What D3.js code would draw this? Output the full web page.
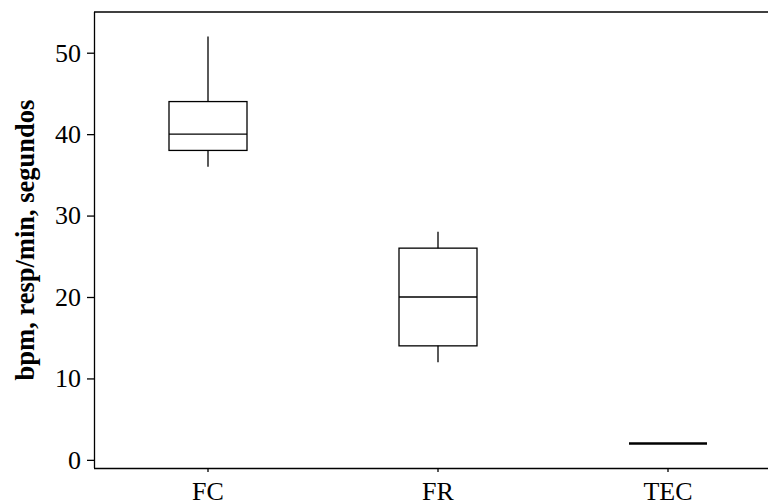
<!DOCTYPE html>
<html>
<head>
<meta charset="utf-8">
<script src="https://cdn.jsdelivr.net/npm/d3@7"></script>
<style>
  body { margin: 0; background: #fff; }
  svg { display: block; font-family: "Liberation Serif", "Times New Roman", serif; }
  .axis path, .axis line { stroke: #000; stroke-width: 1.3; }
  .axis text { font-family: "Liberation Serif", "Times New Roman", serif; font-size: 26px; fill: #000; }
</style>
</head>
<body>
<div id="chart"></div>
<script>
const categories = ["FC", "FR", "TEC"];
const whiskerLow = [36, 12, 2];
const q1 = [38, 14, 2];
const median = [40, 20, 2];
const q3 = [44, 26, 2];
const whiskerHigh = [52, 28, 2];
const yTicks = [0, 10, 20, 30, 40, 50];

const boxes = categories.map((c, i) => ({
  cat: c, lo: whiskerLow[i], q1: q1[i], med: median[i], q3: q3[i], hi: whiskerHigh[i]
}));

const W = 768, H = 503;
const margin = { top: 12, right: -15, bottom: 35, left: 94 };

const svg = d3.select("#chart").append("svg")
  .attr("width", W)
  .attr("height", H);

const x = d3.scaleBand()
  .domain(categories)
  .range([margin.left - 1, W - margin.right])
  .padding(0);

const y = d3.scaleLinear()
  .domain([-1, 55])
  .range([H - margin.bottom, margin.top]);

const boxW = 78;

// frame: top line, the right side runs off the page
svg.append("line")
  .attr("x1", margin.left).attr("x2", W + 5)
  .attr("y1", margin.top).attr("y2", margin.top)
  .attr("stroke", "#000").attr("stroke-width", 1.3);

svg.append("g")
  .attr("class", "axis")
  .attr("transform", `translate(${margin.left},0)`)
  .call(d3.axisLeft(y).tickValues(yTicks).tickSize(7).tickPadding(6).tickSizeOuter(0))
  .call(g => g.select(".domain").attr("d", `M0.5,${margin.top}V${H - margin.bottom}`));

svg.append("g")
  .attr("class", "axis")
  .attr("transform", `translate(0,${H - margin.bottom})`)
  .call(d3.axisBottom(x).tickSize(4).tickPadding(10).tickSizeOuter(0))
  .call(g => g.select(".domain").attr("d", `M${margin.left},0.5H${W + 5}`));

svg.append("text")
  .attr("transform", "rotate(-90)")
  .attr("x", -(y(55) + y(-1)) / 2)
  .attr("y", 34)
  .attr("text-anchor", "middle")
  .attr("font-weight", "bold")
  .attr("font-size", 26.5)
  .text("bpm, resp/min, segundos");

const g = svg.append("g")
  .attr("stroke", "#000")
  .attr("stroke-width", 1.3)
  .attr("fill", "none");

boxes.forEach(d => {
  const cx = x(d.cat) + x.bandwidth() / 2;
  g.append("line")
    .attr("x1", cx).attr("x2", cx)
    .attr("y1", y(d.hi)).attr("y2", y(d.q3));
  g.append("line")
    .attr("x1", cx).attr("x2", cx)
    .attr("y1", y(d.q1)).attr("y2", y(d.lo));
  g.append("rect")
    .attr("x", cx - boxW / 2)
    .attr("width", boxW)
    .attr("y", y(d.q3))
    .attr("height", Math.max(0, y(d.q1) - y(d.q3)));
  g.append("line")
    .attr("x1", cx - boxW / 2).attr("x2", cx + boxW / 2)
    .attr("y1", y(d.med)).attr("y2", y(d.med))
    .attr("stroke-width", d.q1 === d.q3 ? 2.6 : 1.3);
});
</script>
</body>
</html>
